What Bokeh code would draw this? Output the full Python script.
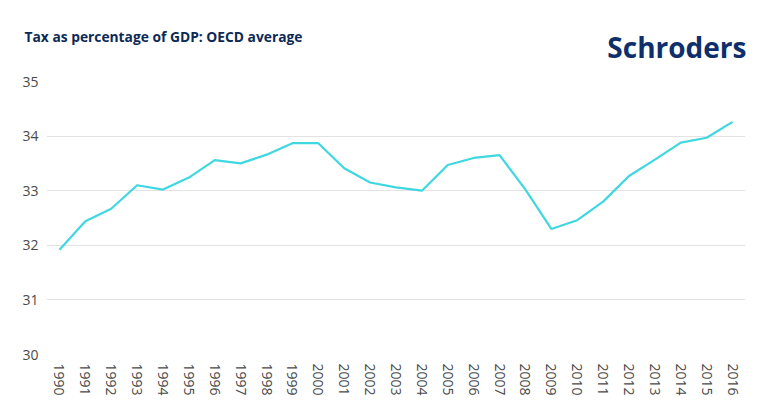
from bokeh.plotting import figure
from bokeh.models import FixedTicker, Range1d
from bokeh.layouts import column
from bokeh.core.properties import value
from bokeh.embed import file_html
from bokeh.resources import INLINE

years = list(range(1990, 2017))
tax_pct = [31.92, 32.44, 32.67, 33.10, 33.02, 33.24, 33.56, 33.50, 33.66, 33.87,
           33.87, 33.41, 33.15, 33.06, 33.00, 33.47, 33.60, 33.65, 33.02, 32.30,
           32.46, 32.80, 33.27, 33.57, 33.88, 33.97, 34.26]
y_ticks = [30, 31, 32, 33, 34, 35]
title_text = "Tax as percentage of GDP: OECD average"
logo_text = "Schroders"

FONT = "Open Sans"
TITLE_COLOR = "#0d2a56"
LOGO_COLOR = "#0e2f6b"
HEADER_H = 72

# header strip (title + logo), page pixel coordinates
h = figure(width=770, height=HEADER_H, output_backend="svg", toolbar_location=None,
           x_range=Range1d(0, 770), y_range=Range1d(HEADER_H, 0),
           x_axis_type=None, y_axis_type=None, min_border=0)
if "frame_align" in h.properties():
    h.frame_align = False
h.outline_line_color = None
h.xgrid.visible = False
h.ygrid.visible = False
h.text(x=[24], y=[36], text=[title_text], text_font=value(FONT), text_font_size="13.8px",
       text_font_style="bold", text_color=TITLE_COLOR, text_baseline="alphabetic")
h.text(x=[746], y=[46], text=[logo_text], text_font=value(FONT), text_font_size="28px",
       text_font_style="bold", text_color=LOGO_COLOR, text_baseline="alphabetic",
       text_align="right")

p = figure(width=770, height=413 - HEADER_H, output_backend="svg", toolbar_location=None,
           x_range=Range1d(1989.5, 2016.5), y_range=Range1d(30, 35),
           min_border_left=46, min_border_right=25, min_border_top=81 - HEADER_H,
           min_border_bottom=59)
if "frame_align" in p.properties():
    p.frame_align = False
p.outline_line_color = None
p.background_fill_color = "white"
p.border_fill_color = "white"

p.line(years, tax_pct, line_color="#3fd7e0", line_width=2.2)

p.xgrid.visible = False
p.ygrid.grid_line_color = "#e3e3e3"
p.ygrid.grid_line_width = 1
p.ygrid.ticker = FixedTicker(ticks=y_ticks)

for ax in (p.xaxis[0], p.yaxis[0]):
    ax.axis_line_color = None
    ax.major_tick_line_color = None
    ax.minor_tick_line_color = None
    ax.major_tick_out = 0
    ax.major_tick_in = 0
    ax.minor_tick_out = 0
    ax.minor_tick_in = 0
    ax.major_label_text_font = FONT
    ax.major_label_text_font_size = "14px"
    ax.major_label_text_color = "#4a4a4a"

p.yaxis[0].ticker = FixedTicker(ticks=y_ticks)
p.yaxis[0].major_label_standoff = 8
p.xaxis[0].ticker = FixedTicker(ticks=years)
p.xaxis[0].major_label_orientation = "vertical"
p.xaxis[0].major_label_standoff = 9

layout = column(h, p, spacing=0)
open("out.html", "w").write(file_html(layout, INLINE))
